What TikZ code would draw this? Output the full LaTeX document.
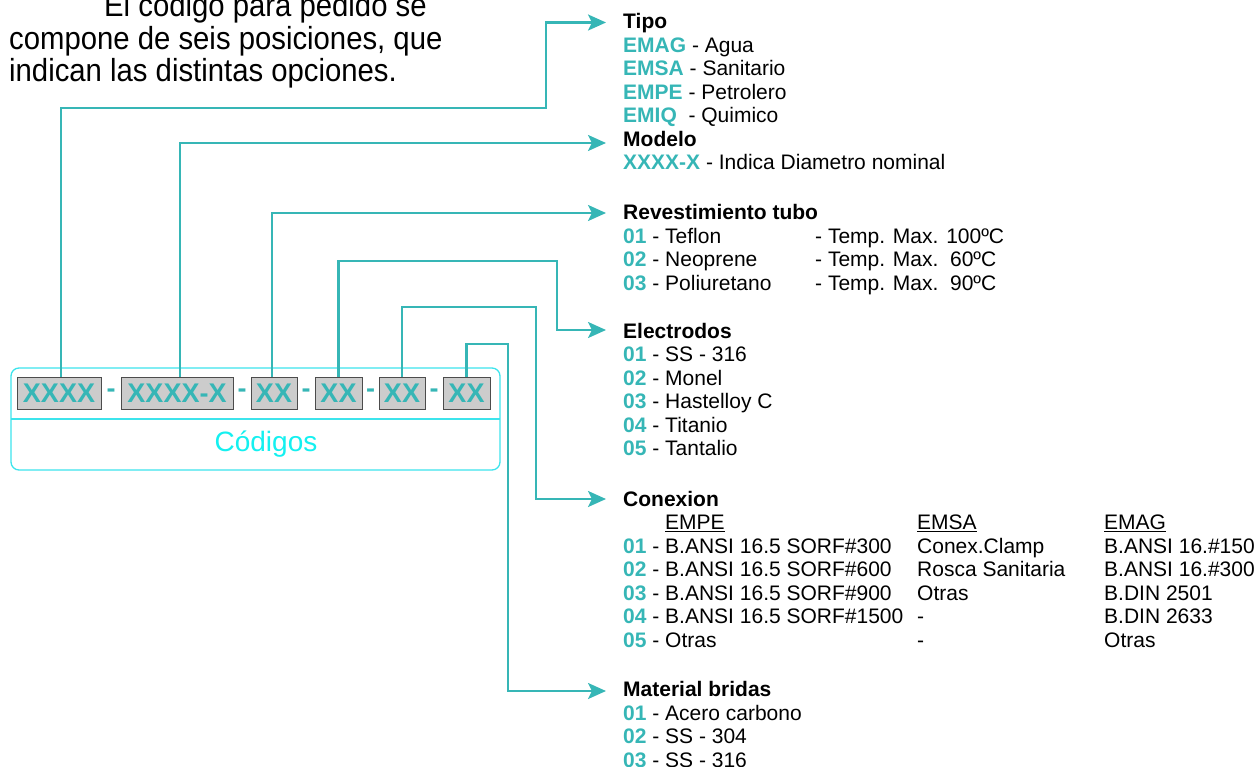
\documentclass[tikz,border=0pt]{standalone}
\usepackage{fontspec}
\setmainfont{Liberation Sans}
\usetikzlibrary{arrows.meta}
\definecolor{tealc}{RGB}{54,182,182}
\definecolor{cyanc}{RGB}{20,240,240}
\definecolor{cyanb}{RGB}{60,228,236}
\definecolor{boxgray}{RGB}{204,204,204}
\newcommand{\tnum}[1]{\textcolor{tealc}{\textbf{#1}}}
\begin{document}
\begin{tikzpicture}[x=1pt,y=-1pt,
  conn/.style={draw=tealc, line width=2.6pt, -{Stealth[length=18pt,width=16pt,inset=4pt]}},
  codebox/.style={draw=black!70, fill=boxgray, line width=1pt, minimum height=32pt, inner sep=0pt,
    font=\fontsize{27}{27}\selectfont\bfseries, text=tealc},
  sepdash/.style={font=\fontsize{27}{27}\selectfont\bfseries, text=tealc, inner sep=0pt},
  blk/.style={anchor=base west, inner sep=0pt, font=\fontsize{21}{23.5}\selectfont},
  intro/.style={anchor=base west, inner sep=0pt, font=\fontsize{29.3}{30}\selectfont}
]
\useasboundingbox (0,0) rectangle (1257,767);

% intro text
\node[intro] (intro1) at (104,17) {\scalebox{1}[1.09]{El codigo para pedido se}};
\node[intro] (intro2) at (9,49.5) {\scalebox{1}[1.09]{compone de seis posiciones, que}};
\node[intro] (intro3) at (9,82) {\scalebox{1}[1.09]{indican las distintas opciones.}};

% code panel
\draw[cyanb, line width=1.3pt, rounded corners=8pt] (11,368) rectangle (500,470);
\draw[cyanb, line width=1.3pt] (11,419) -- (500,419);
\node[text=cyanc, font=\fontsize{28}{28}\selectfont, inner sep=0pt] (cod) at (266,444) {Códigos};

\node[codebox, minimum width=84pt] (b1) at (59,393) {XXXX};
\node[codebox, minimum width=112pt] (b2) at (177,393) {XXXX-X};
\node[codebox, minimum width=46pt] (b3) at (274,393) {XX};
\node[codebox, minimum width=47pt] (b4) at (338.5,393) {XX};
\node[codebox, minimum width=46pt] (b5) at (402,393) {XX};
\node[codebox, minimum width=47pt] (b6) at (466.5,393) {XX};
\node[sepdash] (d1) at (111,393) {-};
\node[sepdash] (d2) at (242,393) {-};
\node[sepdash] (d3) at (306,393) {-};
\node[sepdash] (d4) at (370.5,393) {-};
\node[sepdash] (d5) at (434,393) {-};

% text blocks
\node[blk] (tipo) at (623,29) {\begin{tabular}[t]{@{}l@{}}
\textbf{Tipo}\\
\tnum{EMAG} - Agua\\
\tnum{EMSA} - Sanitario\\
\tnum{EMPE} - Petrolero\\
\tnum{EMIQ}\ \ - Quimico
\end{tabular}};
\node[blk] (modelo) at (623,146.5) {\begin{tabular}[t]{@{}l@{}}
\textbf{Modelo}\\
\tnum{XXXX-X} - Indica Diametro nominal
\end{tabular}};
\node[blk] (rev) at (623,220) {\begin{tabular}[t]{@{}l@{}}
\textbf{Revestimiento tubo}\\
\makebox[192pt][l]{\tnum{01} - Teflon}- Temp. Max. 100ºC\\
\makebox[192pt][l]{\tnum{02} - Neoprene}- Temp. Max.\ \ 60ºC\\
\makebox[192pt][l]{\tnum{03} - Poliuretano}- Temp. Max.\ \ 90ºC
\end{tabular}};
\node[blk] (elec) at (623,338) {\begin{tabular}[t]{@{}l@{}}
\textbf{Electrodos}\\
\tnum{01} - SS - 316\\
\tnum{02} - Monel\\
\tnum{03} - Hastelloy C\\
\tnum{04} - Titanio\\
\tnum{05} - Tantalio
\end{tabular}};
\node[blk] (conex) at (623,506) {\begin{tabular}[t]{@{}l@{}}
\textbf{Conexion}\\
\makebox[294pt][l]{\hspace*{42pt}\underline{EMPE}}\makebox[187pt][l]{\underline{EMSA}}\underline{EMAG}\\
\makebox[294pt][l]{\tnum{01} - B.ANSI 16.5 SORF\#300}\makebox[187pt][l]{Conex.Clamp}B.ANSI 16.\#150\\
\makebox[294pt][l]{\tnum{02} - B.ANSI 16.5 SORF\#600}\makebox[187pt][l]{Rosca Sanitaria}B.ANSI 16.\#300\\
\makebox[294pt][l]{\tnum{03} - B.ANSI 16.5 SORF\#900}\makebox[187pt][l]{Otras}B.DIN 2501\\
\makebox[294pt][l]{\tnum{04} - B.ANSI 16.5 SORF\#1500}\makebox[187pt][l]{-}B.DIN 2633\\
\makebox[294pt][l]{\tnum{05} - Otras}\makebox[187pt][l]{-}Otras
\end{tabular}};
\node[blk] (mat) at (623,696.5) {\begin{tabular}[t]{@{}l@{}}
\textbf{Material bridas}\\
\tnum{01} - Acero carbono\\
\tnum{02} - SS - 304\\
\tnum{03} - SS - 316
\end{tabular}};

% arrow tips and bends
\coordinate (a1) at (606,22.5);
\coordinate (a2) at (606,143);
\coordinate (a3) at (606,213);
\coordinate (a4) at (606,330);
\coordinate (a5) at (606,499);
\coordinate (a6) at (606,691);
\coordinate (k1) at (546,108);
\coordinate (k4) at (557,261);
\coordinate (k5) at (536,307);
\coordinate (k6) at (508,344);

\draw[conn] ([xshift=2pt]b1.north) |- (k1) |- (a1);
\draw[conn] ([xshift=3pt]b2.north) |- (a2);
\draw[conn] ([xshift=-2pt]b3.north) |- (a3);
\draw[conn] (b4.north) |- (k4) |- (a4);
\draw[conn] (b5.north) |- (k5) |- (a5);
\draw[conn] (b6.north) |- (k6) |- (a6);
\end{tikzpicture}
\end{document}
